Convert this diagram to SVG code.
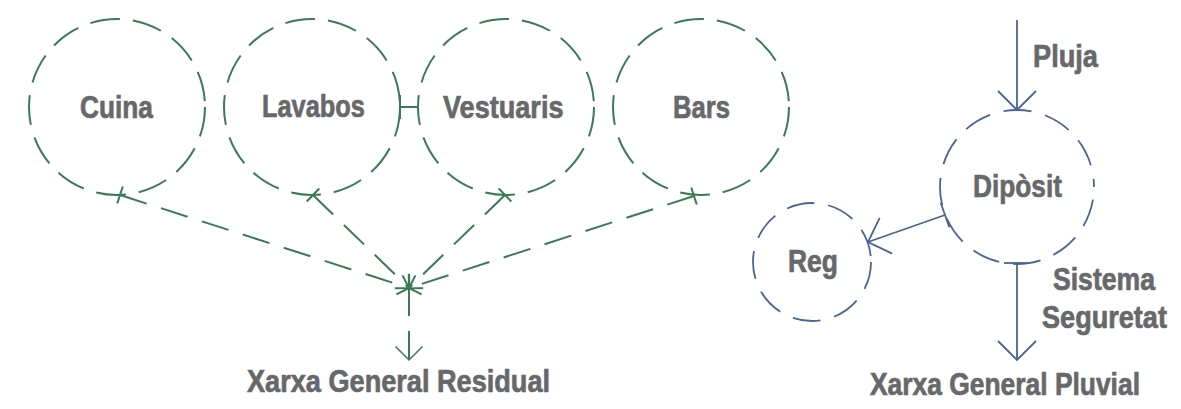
<svg xmlns="http://www.w3.org/2000/svg" width="1181" height="409" viewBox="0 0 1181 409">
  <style>
    .lbl { font-family: "Liberation Sans", Arial, sans-serif; font-weight: bold; font-size: 32px; fill: #67686a; stroke: #67686a; stroke-width: 0.7; }
    .gc { fill: none; stroke: #3c7a55; stroke-width: 2; stroke-dasharray: 30 13; }
    .bc { fill: none; stroke: #4b6496; stroke-width: 1.8; stroke-dasharray: 28 14; }
    .gl { fill: none; stroke: #3c7a55; stroke-width: 2; stroke-dasharray: 28 15; }
    .gs { fill: none; stroke: #3c7a55; stroke-width: 2; }
    .bl { fill: none; stroke: #4b6496; stroke-width: 1.8; }
  </style>
  <defs>
    <marker id="gtick" markerUnits="userSpaceOnUse" markerWidth="30" markerHeight="30" viewBox="-15 -15 30 30" refX="0" refY="0" orient="auto">
      <path d="M0,-12 L0,12" stroke="#3c7a55" stroke-width="2" fill="none" stroke-dasharray="none"/>
    </marker>
    <marker id="gtick2" markerUnits="userSpaceOnUse" markerWidth="30" markerHeight="30" viewBox="-15 -15 30 30" refX="0" refY="0" orient="auto">
      <path d="M0,-9 L0,9" stroke="#3c7a55" stroke-width="2" fill="none" stroke-dasharray="none"/>
    </marker>
    <marker id="garrow" markerUnits="userSpaceOnUse" markerWidth="30" markerHeight="30" viewBox="-20 -20 40 40" refX="0" refY="0" orient="auto">
      <path d="M-18,-18 L0,0 L-18,18" stroke="#3c7a55" stroke-width="2" fill="none" stroke-dasharray="none"/>
    </marker>
    <marker id="gsmall" markerUnits="userSpaceOnUse" markerWidth="30" markerHeight="30" viewBox="-15 -15 30 30" refX="0" refY="0" orient="auto">
      <path d="M-10,-10 L0,0 L-10,10" stroke="#3c7a55" stroke-width="2" fill="none" stroke-dasharray="none"/>
    </marker>
    <marker id="btick" markerUnits="userSpaceOnUse" markerWidth="30" markerHeight="30" viewBox="-15 -15 30 30" refX="0" refY="0" orient="auto">
      <path d="M0,-13 L0,13" stroke="#4b6496" stroke-width="1.8" fill="none"/>
    </marker>
    <marker id="barrow" markerUnits="userSpaceOnUse" markerWidth="50" markerHeight="50" viewBox="-25 -25 50 50" refX="0" refY="0" orient="auto">
      <path d="M-19,-19 L0,0 L-19,19" stroke="#4b6496" stroke-width="1.8" fill="none"/>
    </marker>
  </defs>

  <g id="connectors">
    <line class="gl" x1="120" y1="195" x2="409" y2="288" marker-start="url(#gtick2)" marker-end="url(#gsmall)"/>
    <line class="gl" x1="313" y1="195" x2="409" y2="288" marker-start="url(#gtick2)" marker-end="url(#gsmall)"/>
    <line class="gl" x1="505" y1="195" x2="409" y2="288" marker-start="url(#gtick2)" marker-end="url(#gsmall)"/>
    <line class="gl" x1="694" y1="196" x2="409" y2="288" marker-start="url(#gtick2)" marker-end="url(#gsmall)"/>
    <line class="gs" x1="400" y1="107" x2="418" y2="107" marker-start="url(#gtick)"/>
    <line class="gl" x1="409" y1="288" x2="409" y2="360" marker-end="url(#garrow)"/>
    <line class="bl" x1="1017" y1="20" x2="1017" y2="110" marker-end="url(#barrow)"/>
    <line class="bl" x1="945" y1="215" x2="868" y2="242" marker-start="url(#btick)" marker-end="url(#barrow)"/>
    <line class="bl" x1="1017" y1="263" x2="1017" y2="360" marker-start="url(#btick)" marker-end="url(#barrow)"/>
  </g>

  <g id="cuina">
    <circle class="gc" cx="117" cy="107" r="88"/>
    <text class="lbl" transform="translate(80 118) scale(0.821 1)">Cuina</text>
  </g>
  <g id="lavabos">
    <circle class="gc" cx="312" cy="107" r="88"/>
    <text class="lbl" transform="translate(262 117) scale(0.793 1)">Lavabos</text>
  </g>
  <g id="vestuaris">
    <circle class="gc" cx="506" cy="107" r="88"/>
    <text class="lbl" transform="translate(443 118) scale(0.847 1)">Vestuaris</text>
  </g>
  <g id="bars">
    <circle class="gc" cx="701" cy="107" r="88"/>
    <text class="lbl" transform="translate(673 118) scale(0.801 1)">Bars</text>
  </g>
  <g id="residual">
    <text class="lbl" transform="translate(247 392) scale(0.848 1)">Xarxa General Residual</text>
  </g>
  <g id="pluja">
    <text class="lbl" transform="translate(1033 67) scale(0.85 1)">Pluja</text>
  </g>
  <g id="diposit">
    <circle class="bc" cx="1017" cy="187" r="77" stroke-dashoffset="-12.8"/>
    <text class="lbl" transform="translate(973 197) scale(0.821 1)">Dipòsit</text>
  </g>
  <g id="reg">
    <circle class="bc" cx="812" cy="262" r="59"/>
    <text class="lbl" transform="translate(788 272) scale(0.827 1)">Reg</text>
  </g>
  <g id="sistema">
    <text class="lbl" transform="translate(1053 290) scale(0.831 1)">Sistema</text>
    <text class="lbl" transform="translate(1042 328) scale(0.847 1)">Seguretat</text>
  </g>
  <g id="pluvial">
    <text class="lbl" transform="translate(870 395) scale(0.825 1)">Xarxa General Pluvial</text>
  </g>
</svg>
